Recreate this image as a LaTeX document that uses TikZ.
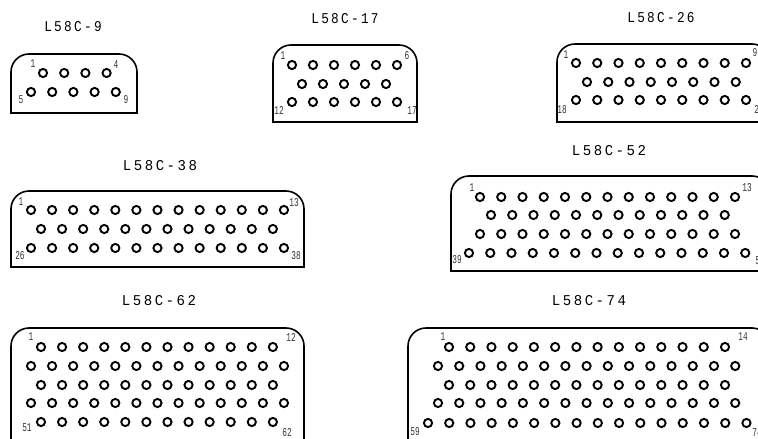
\documentclass[tikz,border=0pt]{standalone}
\usepackage{fontspec}
\newfontfamily\rotfont[LetterSpace=18]{Liberation Mono}
\newfontfamily\numfont{Liberation Mono}
\tikzset{
  caja/.style={line width=1.6pt},
  pin/.style={line width=1.9pt},
  rotulo/.style={font=\rotfont\fontsize{15}{15}\selectfont, xscale=.85, inner sep=0pt},
  rotuloancho/.style={rotulo, xscale=1.1},
  num/.style={font=\numfont\fontsize{12}{12}\selectfont, xscale=.65, inner sep=0pt, text=black!80}
}
% contorno: izquierda, derecha, arriba, abajo
\newcommand{\caja}[4]{\draw[caja] (#1,#4) [rounded corners=18pt] -- (#1,#3) -- (#2,#3) [sharp corners] -- (#2,#4) -- cycle;}
% filas de pines: paso, lista x/n/y
\newcommand{\pines}[2]{\foreach \px/\pn/\py in {#2} \foreach \i in {0,...,\pn} \draw[pin] (\px+#1*\i,\py) circle (4.1);}
\begin{document}
\begin{tikzpicture}[x=1pt,y=-1pt]
    \useasboundingbox (0,0) rectangle (758,439);

    % L58C-9
    \node[rotulo] (rot9) at (73,27) {L58C-9};
    \caja{11}{137}{54}{113}
    \pines{21.2}{43/3/73, 31/4/92}
    \node[num] (n9a) at (33,64) {1};
    \node[num] (n9b) at (116,65) {4};
    \node[num] (n9c) at (21,100) {5};
    \node[num] (n9d) at (126,100) {9};

    % L58C-17
    \node[rotulo] (rot17) at (345,19) {L58C-17};
    \caja{273}{417}{45}{122}
    \pines{21}{292/5/65, 302/4/84, 292/5/102}
    \node[num] (n17a) at (283,56) {1};
    \node[num] (n17b) at (407,56) {6};
    \node[num] (n17c) at (279,110) {12};
    \node[num] (n17d) at (412,111) {17};

    % L58C-26
    \node[rotulo] (rot26) at (661,18) {L58C-26};
    \caja{557}{770}{44}{122}
    \pines{21.25}{576/8/63, 587/7/82, 576/8/100}
    \node[num] (n26a) at (566,55) {1};
    \node[num] (n26b) at (755,53) {9};
    \node[num] (n26c) at (562,110) {18};
    \node[num] (n26d) at (759,110) {26};

    % L58C-38
    \node[rotuloancho] (rot38) at (160,166) {L58C-38};
    \caja{11}{304}{191}{267}
    \pines{21.08}{31/12/210, 41/11/229, 31/12/248}
    \node[num] (n38a) at (21,202) {1};
    \node[num] (n38b) at (294,203) {13};
    \node[num] (n38c) at (20,256) {26};
    \node[num] (n38d) at (296,256) {38};

    % L58C-52
    \node[rotuloancho] (rot52) at (609,151) {L58C-52};
    \caja{451}{770}{176}{271}
    \pines{21.25}{480/12/197, 491/11/215, 480/12/234, 469/13/253}
    \node[num] (n52a) at (472,188) {1};
    \node[num] (n52b) at (747,188) {13};
    \node[num] (n52c) at (457,260) {39};
    \node[num] (n52d) at (760,261) {52};

    % L58C-62
    \node[rotuloancho] (rot62) at (159,301) {L58C-62};
    \caja{11}{304}{328}{450}
    \pines{21.08}{41/11/347, 31/12/366, 41/11/385, 31/12/403, 41/11/422}
    \node[num] (n62a) at (31,337) {1};
    \node[num] (n62b) at (291,337) {12};
    \node[num] (n62c) at (27,428) {51};
    \node[num] (n62d) at (287,433) {62};

    % L58C-74
    \node[rotuloancho] (rot74) at (589,301) {L58C-74};
    \caja{408}{770}{328}{450}
    \pines{21.23}{449/13/347, 438/14/366, 449/13/385, 438/14/403, 428/15/423}
    \node[num] (n74a) at (443,337) {1};
    \node[num] (n74b) at (743,337) {14};
    \node[num] (n74c) at (415,432) {59};
    \node[num] (n74d) at (757,433) {74};
\end{tikzpicture}
\end{document}
